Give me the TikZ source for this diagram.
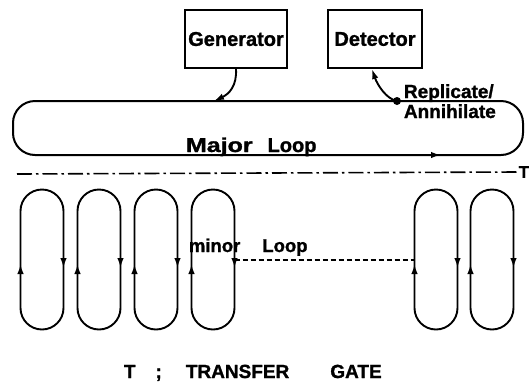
\documentclass[tikz,border=0pt]{standalone}
\usepackage{fontspec}
\usepackage{graphicx}
\setmainfont{Liberation Sans}[BoldFeatures={FakeBold=1.2}]
\usetikzlibrary{arrows.meta}
\begin{document}
\begin{tikzpicture}[x=1pt,y=-1pt,
  line width=1.9pt,
  lbl/.style={inner sep=0pt, font=\bfseries\fontsize{20}{24}\selectfont},
  lblm/.style={inner sep=0pt, font=\bfseries\fontsize{19}{22}\selectfont},
  box/.style={draw, line width=2pt, minimum height=58pt, inner sep=0pt},
  tip/.style={-{Latex[length=10pt,width=6.5pt]}},
  minorloop/.style={line width=1.9pt},
  dashdot/.style={line width=1.6pt, dash pattern=on 15pt off 4pt on 2.5pt off 4pt},
  dashline/.style={line width=1.4pt, dash pattern=on 5pt off 3pt},
]
\useasboundingbox (0,0) rectangle (531,384);

% boxes
\node[box, lbl, minimum width=102pt] (gen) at (236,39) {Generator};
\node[box, lbl, minimum width=94pt] (det) at (375,39) {Detector};

% major loop
\node[draw, line width=2pt, rounded corners=22pt, minimum width=510pt, minimum height=54pt, inner sep=0pt] (major) at (268,128) {};
\coordinate (gin) at (214,101);
\coordinate (rep) at (397,101);
\coordinate (mla) at (418,155);
\coordinate (mlb) at (441,155);

\draw[tip] (gen.south) .. controls (237,86) and (229,94) .. (gin);
\draw[tip] (rep) .. controls (386,99) and (377,84) .. ([xshift=-3pt]det.south);
\fill (rep) circle (4pt);
\draw[tip] (mla) -- (mlb);

\node[lblm, anchor=base west] (rl) at (403,98) {Replicate/};
\node[lblm, anchor=base west] (al) at (403,118) {Annihilate};

\node[lbl, anchor=base west] (ml) at (185,152) {\scalebox{1.25}[1]{Major}\hspace{15pt}Loop};

% transfer gate line
\coordinate (tl) at (17,174);
\node[inner sep=0pt, font=\bfseries\fontsize{17}{20}\selectfont, anchor=east] (T) at (530,172) {T};
\draw[dashdot] (tl) -- (T.west);

% minor loops
\foreach \c in {42,99,156,213,436,492} {
  \draw[minorloop] (\c-21.5,308) -- (\c-21.5,211)
     arc[start angle=180, end angle=360, radius=21.5]
     -- (\c+21.5,308)
     arc[start angle=0, end angle=180, radius=21.5] -- cycle;
  \draw[tip] (\c+21.5,250) -- (\c+21.5,268);
  \draw[tip] (\c-21.5,285) -- (\c-21.5,264);
}
\coordinate (l4r) at (234.5,260);
\coordinate (l5l) at (414.5,260);
\draw[dashline] (l4r) -- (l5l);

\node[inner sep=0pt, font=\bfseries\fontsize{18.5}{22}\selectfont, anchor=base west] (mnl) at (188,252) {minor\hspace{22pt}Loop};

\node[lblm, anchor=base west] (tg) at (123,378) {T\hspace{20pt};\hspace{24pt}TRANSFER\hspace{41pt}GATE};
\end{tikzpicture}
\end{document}
